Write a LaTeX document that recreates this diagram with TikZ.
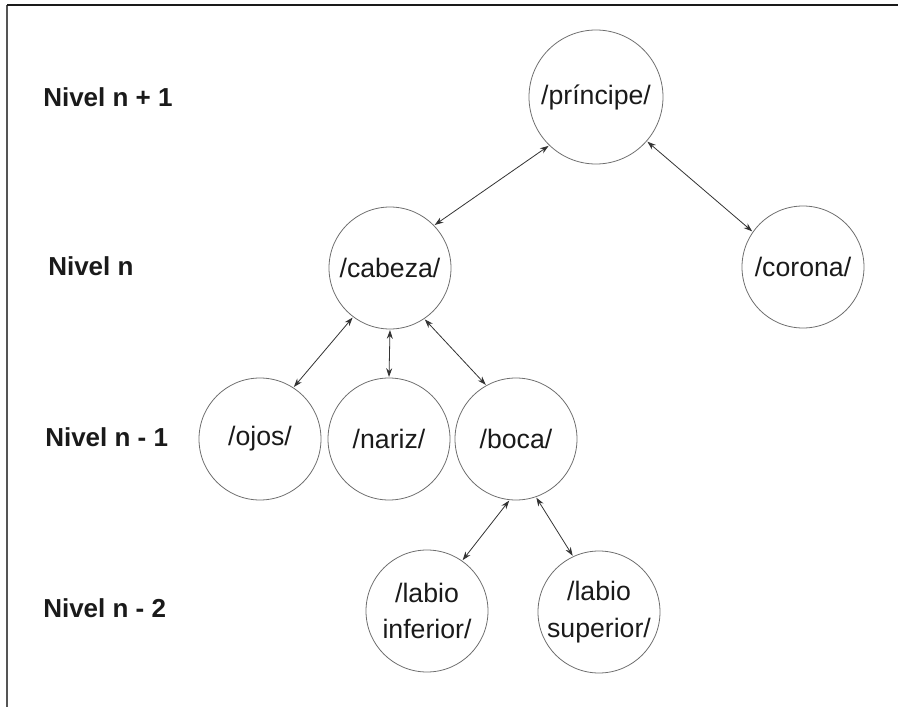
\documentclass[tikz,border=0pt]{standalone}
\usepackage{fontspec}
\setmainfont{Liberation Sans}
\usepackage{xcolor}
\usetikzlibrary{positioning,arrows.meta}
\definecolor{cInk}{HTML}{1A1A1A}
\definecolor{cRing}{HTML}{6E6E6E}
\definecolor{cEdge}{HTML}{333333}
\definecolor{cFrame}{HTML}{555555}

\begin{document}
\begin{tikzpicture}[
  x=0.75pt, y=-0.75pt,
  font=\fontsize{20}{27.5}\selectfont,
  morph/.style={circle, draw=cRing, line width=0.6pt, minimum size=91.5pt, inner sep=0pt, align=center, text=cInk},
  bigmorph/.style={morph, minimum size=100.5pt},
  nivel/.style={font=\fontsize{19.5}{22}\selectfont\bfseries, text=cInk, anchor=west, inner sep=0pt},
  link/.style={{Stealth[length=6.5pt,width=4.5pt]}-{Stealth[length=6.5pt,width=4.5pt]}, cEdge, line width=0.6pt, shorten <=0.5pt, shorten >=0.5pt},
]
\useasboundingbox (0,0) rectangle (901,707);

% ---------- frame ----------
\draw[cFrame, line width=1.5pt] (7,707) -- (7,5);
\draw[cInk, line width=1.5pt] (7,5) -- (898,5);

% ---------- level labels ----------
\node[nivel] (lv1) at (43,97) {Nivel n + 1};
\node[nivel] (lv2) at (48,266) {Nivel n};
\node[nivel] (lv3) at (45,437) {Nivel n - 1};
\node[nivel] (lv4) at (43,608) {Nivel n - 2};

% ---------- tree ----------
\node[bigmorph] (principe) at (596,97) {/príncipe/};
\node[morph] (cabeza) at (390,268) {/cabeza/};
\node[morph] (corona) at (803,267) {/corona/};
\node[morph] (ojos) at (260,439) {/ojos/};
\node[morph] (nariz) at (389,439) {/nariz/};
\node[morph] (boca) at (516,439) {/boca/};
\node[morph] (labinf) at (427,611) {/labio\\inferior/};
\node[morph] (labsup) at (599,612) {/labio\\superior/};

% arrows between levels
\draw[link] (principe.-134) -- (cabeza.44);
\draw[link] (principe.-41) -- (corona.145);
\draw[link] (cabeza.-127) -- (ojos.57);
\draw[link] (cabeza.-90) -- (nariz.90);
\draw[link] (cabeza.-56) -- (boca.119);
\draw[link] (boca.-96) -- (labinf.55);
\draw[link] (boca.-71) -- (labsup.115);

\end{tikzpicture}
\end{document}
